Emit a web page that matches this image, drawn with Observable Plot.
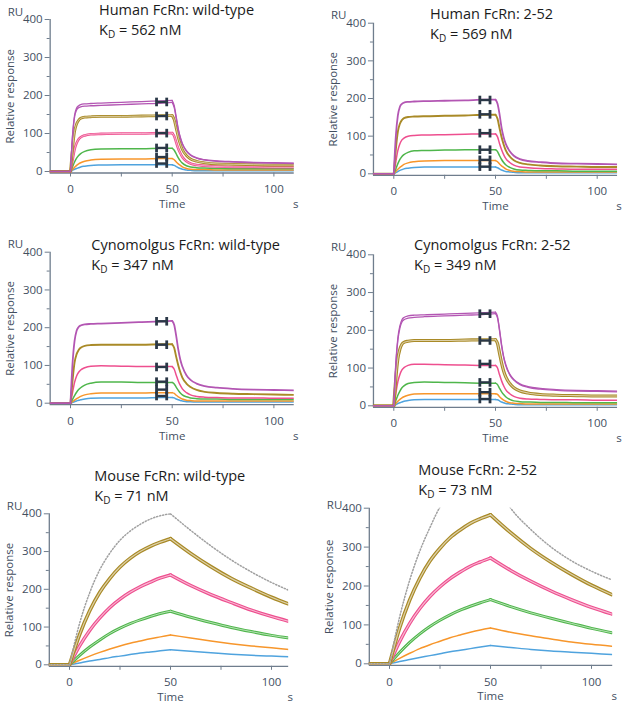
<!DOCTYPE html>
<html><head><meta charset="utf-8">
<script src="https://cdn.jsdelivr.net/npm/d3@7"></script>
<script src="https://cdn.jsdelivr.net/npm/@observablehq/plot@0.6"></script>
<style>
body{margin:0;background:#fff;}
#root{position:relative;width:625px;height:706px;overflow:hidden;font-family:"Open Sans",sans-serif;}
.panel{position:absolute;}
.ttl{position:absolute;font-family:"Open Sans",sans-serif;font-size:14.5px;line-height:20px;color:#1b1b1b;white-space:nowrap;}
.ttl sub{font-size:10px;vertical-align:-3px;line-height:0;}
</style></head><body><div id="root"></div>
<script>
// ---- tick labels ----
const yMajor = [0, 100, 200, 300, 400];
const yMinor = [50, 150, 250, 350];
const xMajor = [0, 50, 100];
const xMinor = [25, 75];

// ---- time points (s) ----
const tTop = [-10,0,1,2,3,4,5,7,10,15,25,35,45,50,51,52,53,54,55,57,59,62,66,72,80,90,100,110];
const tMouse = [-10,0,5,10,15,20,25,30,35,40,45,50,60,70,80,90,100,110];

// ---- series colours: blue, orange, green, pink, gold, purple, dotted ----
const colors = ["#4fa3de", "#f7962b", "#4fb64b", "#ee4f8f", "#a98a27", "#b356b3", "#a0a0a0"];

// ---- Human FcRn: wild-type (RU) ----
const humanWT = [
  [0,0,3,6,8,10,12,14,16,17,18,18,18,18, 16,13,10,8,6,4,3,2,2,2,2,2,2,2],
  [0,0,5,11,16,20,23,27,30,32,33,33,34,34, 31,25,20,16,12,8,6,5,5,4,4,4,4,4],
  [0,0,12,25,35,42,47,53,57,59,60,60,61,61, 56,46,36,28,22,15,12,10,9,8,7,7,7,7],
  [0,0,30,58,75,85,90,95,98,99,100,100,101,101, 93,76,60,48,38,27,21,17,15,13,12,12,11,11],
  [0,0,60,105,125,135,140,143,144,145,145,146,147,147, 136,113,90,72,58,42,33,27,23,20,19,18,17,17],
  [0,0,95,148,167,173,176,178,179,180,182,184,186,187, 173,143,112,90,74,55,44,36,31,28,26,24,23,22],
  [0,0,92,143,162,168,170,172,173,174,176,178,180,182, 168,139,109,88,72,53,43,35,30,27,25,23,22,21]
];
// ---- Human FcRn: 2-52 ----
const human252 = [
  [0,0,3,6,9,11,13,15,17,18,18,18,18,18, 16,13,10,8,6,5,4,3,3,3,3,3,3,3],
  [0,0,6,12,17,21,25,29,32,34,35,35,35,35, 32,26,21,17,13,9,7,6,5,5,5,5,5,5],
  [0,0,13,27,38,46,51,57,61,62,63,64,64,64, 59,48,38,30,24,17,13,10,9,8,8,7,7,7],
  [0,0,32,62,80,90,95,100,102,103,104,105,106,106, 98,80,64,51,41,30,23,18,16,14,13,12,12,12],
  [0,0,65,112,133,143,148,151,152,153,154,155,157,157, 146,121,97,78,63,46,36,29,25,22,20,19,18,18],
  [0,0,100,155,178,186,189,191,192,193,194,195,197,197, 186,158,122,97,80,60,48,39,34,31,28,27,26,25]
];
// ---- Cynomolgus FcRn: wild-type ----
const cynoWT = [
  [0,0,2,4,6,8,9,11,13,14,14,14,15,15, 14,11,9,7,6,4,4,3,3,3,3,3,3,3],
  [0,0,4,8,12,15,18,22,25,27,27,27,28,28, 26,21,17,14,11,8,7,6,6,6,6,6,6,6],
  [0,0,10,20,29,36,41,48,53,56,56,55,55,55, 51,42,34,27,22,17,14,12,11,11,10,10,10,10],
  [0,0,28,55,72,82,88,94,98,99,98,97,97,97, 90,74,59,47,38,28,22,18,16,15,14,14,13,13],
  [0,0,60,108,130,141,147,152,154,155,155,155,156,156, 146,122,100,82,68,52,43,35,30,27,25,24,23,22],
  [0,0,105,165,192,202,206,209,210,211,213,215,217,218, 207,177,142,115,97,74,62,52,45,41,38,36,35,34]
];
// ---- Cynomolgus FcRn: 2-52 ----
const cyno252 = [
  [0,0,3,6,8,10,12,14,16,17,17,17,17,17, 16,13,10,8,6,5,4,3,3,3,3,3,3,3],
  [0,0,6,12,17,21,24,28,31,32,32,32,32,32, 30,24,19,15,12,8,7,6,5,5,5,5,5,5],
  [0,0,14,28,39,48,53,59,62,63,62,61,60,60, 56,46,37,30,24,17,13,11,10,9,9,8,8,8],
  [0,0,33,64,83,95,101,107,110,110,109,108,107,107, 100,82,66,53,43,32,25,20,18,17,16,16,15,15],
  [0,0,72,125,150,163,168,171,173,173,173,174,175,175, 165,139,113,92,77,59,48,39,34,30,28,27,26,26],
  [0,0,115,180,212,228,234,238,240,241,243,245,247,248, 236,202,162,131,110,84,70,58,51,46,43,41,40,39],
  [0,0,110,174,206,222,228,232,234,236,238,240,242,244, 232,198,158,128,107,82,68,56,49,44,41,39,38,37]
];
// ---- Mouse FcRn: wild-type ----
const mouseWT = [
  [0,0,5,10,14,19,23,27,31,34,37,40, 36,32,28,25,23,21],
  [0,0,12,23,33,42,50,57,63,69,74,79, 71,63,56,50,45,40],
  [0,0,25,47,66,83,97,109,119,128,136,142, 126,112,99,88,78,70],
  [0,0,50,91,124,152,174,192,207,219,230,238, 210,186,165,145,128,113],
  [0,0,80,143,192,229,259,282,300,314,325,334, 295,260,229,203,179,158],
  [0,0,110,191,252,296,330,354,372,386,395,400, 356,315,278,246,218,194]
];
// ---- Mouse FcRn: 2-52 ----
const mouse252 = [
  [0,0,6,11,16,21,26,31,35,39,43,47, 42,37,33,30,27,24],
  [0,0,14,27,39,49,58,67,74,81,87,92, 81,72,64,56,50,45],
  [0,0,29,55,77,96,112,126,138,148,157,165, 147,131,117,104,91,80],
  [0,0,57,104,142,173,198,219,236,251,262,272, 240,212,187,165,145,128],
  [0,0,92,164,220,264,297,324,344,361,373,383, 337,296,261,230,202,178],
  [0,0,120,215,290,350,403,436,455,470,480,485, 400,345,300,265,238,216]
];

// ---- report-point markers (s and RU) ----
const markerSpan = [42.3, 47.3];
const markersHumanWT = [183, 146, 101, 62, 38, 21];
const markersHuman252 = [196, 158, 108, 64, 37, 19];
const markersCynoWT = [217, 155, 96, 57, 36, 19];
const markersCyno252 = [244, 173, 111, 62, 36, 18];

const AX = "#6f7d8d", TXT = "#434f5f", MK = "#2b3847";
const root = document.getElementById("root");

const vbar = {draw(ctx, size) { const r = Math.sqrt(size / Math.PI); ctx.moveTo(0, -r); ctx.lineTo(0, r); }};

function rowsOf(ts, vs) {
  const out = [];
  ts.forEach((t, i) => {
    const v = vs[i];
    if (t <= 0) out.push({t, v, g: 0});
    if (t >= 0 && t <= 50) out.push({t, v, g: 1});
    if (t >= 50) out.push({t, v, g: 2});
  });
  return out;
}

function addPanel(cfg) {
  const kx = (cfg.px50 - cfg.px0) / 50, ky = (cfg.py0 - cfg.py400) / 400;
  const xd = [-10, cfg.xMax], yd = [-4, 400];
  const fl = cfg.px0 + kx * xd[0], fr = cfg.px0 + kx * xd[1];
  const ft = cfg.py400, fb = cfg.py0 + ky * (0 - yd[0]);
  const marks = [
    Plot.axisY({ticks: yMajor, tickSize: 5, tickPadding: 2.5, label: null, stroke: AX, fill: TXT}),
    Plot.axisY({ticks: yMinor, tickSize: 3, tickFormat: () => "", label: null, stroke: AX}),
    Plot.axisX({ticks: xMajor, tickSize: 4, tickPadding: 8, label: null, stroke: AX, fill: TXT}),
    Plot.axisX({ticks: xMinor, tickSize: 4, tickFormat: () => "", label: null, stroke: AX}),
    Plot.ruleX([xd[0]], {stroke: AX, strokeWidth: 1.3}),
    Plot.ruleY([yd[0]], {stroke: AX, strokeWidth: 1.3})
  ];
  cfg.series.forEach((vals, i) => {
    const st = cfg.styles[i];
    const data = rowsOf(cfg.t, vals);
    const col = colors[st.c];
    const base = {x: "t", y: "v", z: "g", curve: "monotone-x", clip: true};
    if (st.k === "dot") {
      marks.push(Plot.line(data, {...base, stroke: col, strokeWidth: 1.5, strokeDasharray: "1.2,1.9"}));
    } else if (st.k === "band") {
      marks.push(Plot.line(data, {...base, stroke: col, strokeWidth: st.w || 3.2}));
      marks.push(Plot.line(data, {...base, stroke: "#ffffff", strokeOpacity: 0.6, strokeWidth: (st.w || 3.2) / 3}));
    } else {
      marks.push(Plot.line(data, {...base, stroke: col, strokeWidth: st.w || 1.5}));
    }
  });
  if (cfg.markers) {
    const mr = cfg.markers.map(v => ({x1: markerSpan[0], x2: markerSpan[1], v}));
    marks.push(Plot.link(mr, {x1: "x1", x2: "x2", y1: "v", y2: "v", stroke: MK, strokeWidth: 2.4}));
    marks.push(Plot.dot(mr, {x: "x1", y: "v", symbol: vbar, r: 4.3, stroke: MK, strokeWidth: 2.8, fill: "none"}));
    marks.push(Plot.dot(mr, {x: "x2", y: "v", symbol: vbar, r: 4.3, stroke: MK, strokeWidth: 2.8, fill: "none"}));
  }
  marks.push(
    Plot.text(["RU"], {text: d => d, frameAnchor: "top-left", dx: -27, dy: cfg.ruDy, textAnchor: "end", lineAnchor: "middle", fill: TXT, fontSize: 11.5}),
    Plot.text(["Relative response"], {text: d => d, frameAnchor: "left", rotate: -90, dx: -40, textAnchor: "middle", lineAnchor: "middle", fill: TXT, fontSize: 11.5}),
    Plot.text(["Time"], {text: d => d, x: () => 50, frameAnchor: "bottom", dy: cfg.timeDy, textAnchor: "middle", lineAnchor: "middle", fill: TXT, fontSize: 11.5}),
    Plot.text(["s"], {text: d => d, frameAnchor: "bottom-right", dx: 1.5, dy: cfg.timeDy, textAnchor: "middle", lineAnchor: "middle", fill: TXT, fontSize: 11.5})
  );
  const svg = Plot.plot({
    width: cfg.w, height: cfg.h,
    marginLeft: fl - cfg.left, marginRight: cfg.left + cfg.w - fr,
    marginTop: ft - cfg.top, marginBottom: cfg.top + cfg.h - fb,
    x: {domain: xd}, y: {domain: yd},
    style: {fontFamily: "'Open Sans', sans-serif", fontSize: "11.5px", color: TXT, background: "transparent", overflow: "visible"},
    marks
  });
  const div = document.createElement("div");
  div.className = "panel";
  div.style.left = cfg.left + "px"; div.style.top = cfg.top + "px";
  div.appendChild(svg);
  root.appendChild(div);
  const tt = document.createElement("div");
  tt.className = "ttl";
  tt.style.left = cfg.tx + "px"; tt.style.top = cfg.ty + "px";
  tt.innerHTML = cfg.title + "<br>K<sub>D</sub> = " + cfg.kd;
  root.appendChild(tt);
}

const thin = c => ({k: "thin", c});
const band = (c, w) => ({k: "band", c, w});

addPanel({left: 0, top: 0, w: 310, h: 225, px0: 70, px50: 171.7, py0: 171, py400: 19, xMax: 110, ruDy: -7, timeDy: 31.5,
  t: tTop, series: humanWT, markers: markersHumanWT,
  styles: [thin(0), thin(1), thin(2), band(3, 2.6), band(4, 2.8), {k: "thin", c: 5, w: 1.3}, {k: "thin", c: 5, w: 1.3}],
  title: "Human FcRn: wild-type", kd: "562 nM", tx: 99, ty: 0.4});
addPanel({left: 310, top: 0, w: 315, h: 225, px0: 393.3, px50: 495, py0: 173.3, py400: 22.7, xMax: 110, ruDy: -7.5, timeDy: 31.5,
  t: tTop, series: human252, markers: markersHuman252,
  styles: [thin(0), thin(1), thin(2), thin(3), {k: "thin", c: 4, w: 1.9}, {k: "thin", c: 5, w: 1.8}],
  title: "Human FcRn: 2-52", kd: "569 nM", tx: 430, ty: 3.6});
addPanel({left: 0, top: 225, w: 310, h: 230, px0: 70, px50: 171.7, py0: 402.7, py400: 251.7, xMax: 110, ruDy: -7.5, timeDy: 31.5,
  t: tTop, series: cynoWT, markers: markersCynoWT,
  styles: [thin(0), thin(1), thin(2), thin(3), {k: "thin", c: 4, w: 1.9}, {k: "thin", c: 5, w: 1.8}],
  title: "Cynomolgus FcRn: wild-type", kd: "347 nM", tx: 91.3, ty: 235.3});
addPanel({left: 310, top: 225, w: 315, h: 230, px0: 393.3, px50: 495, py0: 405.3, py400: 254.3, xMax: 110, ruDy: -7, timeDy: 31.5,
  t: tTop, series: cyno252, markers: markersCyno252,
  styles: [thin(0), thin(1), thin(2), thin(3), band(4, 3.2), {k: "thin", c: 5, w: 1.3}, {k: "thin", c: 5, w: 1.3}],
  title: "Cynomolgus FcRn: 2-52", kd: "349 nM", tx: 414, ty: 235.3});
addPanel({left: 0, top: 455, w: 310, h: 251, px0: 69, px50: 170, py0: 664.3, py400: 513.3, xMax: 108.5, ruDy: -7.5, timeDy: 31,
  t: tMouse, series: mouseWT, markers: null,
  styles: [thin(0), thin(1), band(2, 3), band(3, 3.4), band(4, 3.6), {k: "dot", c: 6}],
  title: "Mouse FcRn: wild-type", kd: "71 nM", tx: 94.3, ty: 466.3});
addPanel({left: 310, top: 455, w: 315, h: 251, px0: 389, px50: 490, py0: 663.3, py400: 507.7, xMax: 110.5, ruDy: -3, timeDy: 31,
  t: tMouse, series: mouse252, markers: null,
  styles: [thin(0), thin(1), band(2, 3), band(3, 3.4), band(4, 3.6), {k: "dot", c: 6}],
  title: "Mouse FcRn: 2-52", kd: "73 nM", tx: 418.3, ty: 459.6});
</script>
</body></html>
